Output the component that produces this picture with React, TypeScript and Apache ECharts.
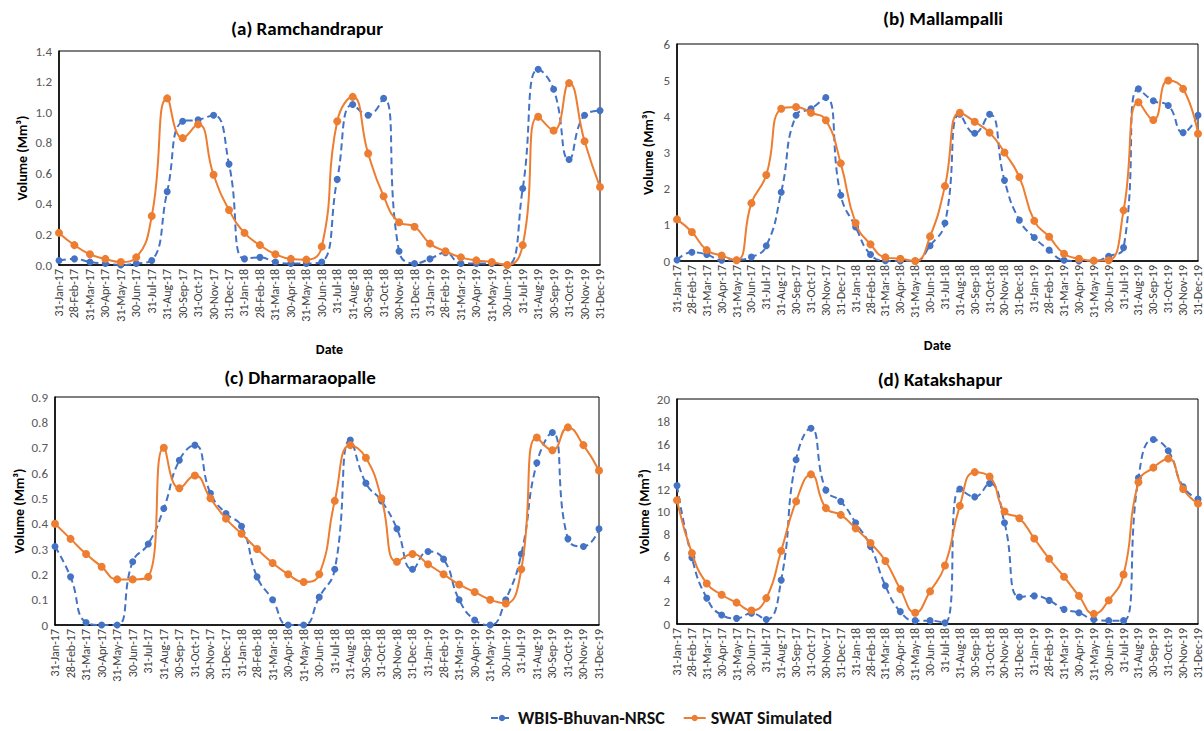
import React, { useEffect, useRef } from "react";
import * as echarts from "echarts";

const dates = [
  "31-Jan-17", "28-Feb-17", "31-Mar-17", "30-Apr-17", "31-May-17", "30-Jun-17",
  "31-Jul-17", "31-Aug-17", "30-Sep-17", "31-Oct-17", "30-Nov-17", "31-Dec-17",
  "31-Jan-18", "28-Feb-18", "31-Mar-18", "30-Apr-18", "31-May-18", "30-Jun-18",
  "31-Jul-18", "31-Aug-18", "30-Sep-18", "31-Oct-18", "30-Nov-18", "31-Dec-18",
  "31-Jan-19", "28-Feb-19", "31-Mar-19", "30-Apr-19", "31-May-19", "30-Jun-19",
  "31-Jul-19", "31-Aug-19", "30-Sep-19", "31-Oct-19", "30-Nov-19", "31-Dec-19",
];

const seriesNames = ["WBIS-Bhuvan-NRSC", "SWAT Simulated"];

const ramWBIS = [0.03, 0.04, 0.02, 0.01, 0.0, 0.01, 0.03, 0.48, 0.94, 0.95, 0.98, 0.66, 0.04, 0.05, 0.02, 0.01, 0.01, 0.02, 0.56, 1.05, 0.98, 1.09, 0.09, 0.01, 0.04, 0.08, 0.01, 0.01, 0.01, 0.0, 0.5, 1.28, 1.15, 0.69, 0.98, 1.01];
const ramSWAT = [0.21, 0.13, 0.07, 0.04, 0.02, 0.05, 0.32, 1.09, 0.83, 0.92, 0.59, 0.36, 0.21, 0.13, 0.07, 0.04, 0.035, 0.12, 0.94, 1.1, 0.73, 0.45, 0.28, 0.25, 0.14, 0.09, 0.05, 0.03, 0.02, 0.0, 0.13, 0.97, 0.88, 1.19, 0.81, 0.51];

const malWBIS = [0.03, 0.24, 0.18, 0.02, 0.03, 0.11, 0.42, 1.9, 4.03, 4.21, 4.52, 1.82, 0.94, 0.18, 0.01, 0.0, 0.0, 0.42, 1.05, 4.06, 3.53, 4.06, 2.23, 1.13, 0.65, 0.3, 0.02, 0.0, 0.0, 0.13, 0.37, 4.76, 4.43, 4.3, 3.55, 4.03];
const malSWAT = [1.15, 0.8, 0.3, 0.15, 0.02, 1.6, 2.38, 4.21, 4.26, 4.1, 3.89, 2.7, 1.05, 0.46, 0.1, 0.06, 0.0, 0.68, 2.07, 4.1, 3.85, 3.55, 3.0, 2.32, 1.11, 0.67, 0.2, 0.06, 0.01, 0.02, 1.4, 4.39, 3.9, 4.99, 4.76, 3.52];

const dhaWBIS = [0.31, 0.19, 0.01, 0.0, 0.0, 0.25, 0.32, 0.46, 0.65, 0.71, 0.52, 0.44, 0.39, 0.19, 0.1, 0.0, 0.0, 0.11, 0.22, 0.73, 0.56, 0.49, 0.38, 0.22, 0.29, 0.26, 0.1, 0.02, 0.0, 0.1, 0.28, 0.64, 0.76, 0.34, 0.31, 0.38];
const dhaSWAT = [0.4, 0.34, 0.28, 0.23, 0.18, 0.18, 0.19, 0.7, 0.54, 0.59, 0.5, 0.42, 0.36, 0.3, 0.245, 0.2, 0.17, 0.2, 0.49, 0.71, 0.66, 0.5, 0.25, 0.28, 0.24, 0.2, 0.16, 0.13, 0.1, 0.085, 0.22, 0.74, 0.69, 0.78, 0.71, 0.61];

const katWBIS = [12.3, 5.9, 2.3, 0.8, 0.5, 0.95, 0.4, 3.9, 14.6, 17.4, 11.9, 10.9, 9.0, 6.9, 3.4, 1.1, 0.3, 0.3, 0.1, 12.0, 11.3, 12.5, 9.0, 2.4, 2.5, 2.1, 1.3, 1.0, 0.4, 0.3, 0.3, 13.0, 16.4, 15.4, 12.2, 11.1];
const katSWAT = [11.0, 6.3, 3.6, 2.6, 1.9, 1.2, 2.3, 6.5, 10.9, 13.3, 10.3, 9.7, 8.5, 7.2, 5.6, 3.1, 1.0, 2.9, 5.2, 10.5, 13.5, 13.1, 10.0, 9.4, 7.6, 5.8, 4.2, 2.5, 0.9, 2.1, 4.4, 12.6, 13.9, 14.7, 12.0, 10.7];

const FONT = "Carlito, Lato, 'Liberation Sans', sans-serif";
const BLUE = "#4472C4";
const ORANGE = "#ED7D31";

const panels = [
  {
    title: "(a) Ramchandrapur", wbis: ramWBIS, swat: ramSWAT, max: 1.4, interval: 0.2,
    fmt: (v: number) => v.toFixed(1),
    grid: { left: 59, top: 51, width: 541, height: 214 }, nameGap: 30, date: true, tx: 307, ty: 19,
  },
  {
    title: "(b) Mallampalli", wbis: malWBIS, swat: malSWAT, max: 6, interval: 1,
    fmt: (v: number) => String(Math.round(v)),
    grid: { left: 677, top: 44, width: 522, height: 217 }, nameGap: 22, date: true, tx: 943, ty: 9,
  },
  {
    title: "(c) Dharmaraopalle", wbis: dhaWBIS, swat: dhaSWAT, max: 0.9, interval: 0.1,
    fmt: (v: number) => (Math.abs(v) < 1e-9 ? "0" : v.toFixed(1)),
    grid: { left: 55, top: 397, width: 544, height: 228 }, nameGap: 29, date: false, tx: 300, ty: 368,
  },
  {
    title: "(d) Katakshapur", wbis: katWBIS, swat: katSWAT, max: 20, interval: 2,
    fmt: (v: number) => String(Math.round(v)),
    grid: { left: 677, top: 399, width: 522, height: 225 }, nameGap: 26, date: false, tx: 940, ty: 370,
  },
];

export default function App() {
  const ref = useRef<HTMLDivElement>(null);
  useEffect(() => {
    document.body.style.margin = "0";
    if (!ref.current) return;
    const chart = echarts.init(ref.current, null, { renderer: "svg" });

    const option: any = {
      animation: false,
      backgroundColor: "#ffffff",
      textStyle: { fontFamily: FONT },
      title: panels.map((p) => ({
        text: p.title,
        left: p.tx,
        top: p.ty,
        textAlign: "center",
        padding: 0,
        textStyle: { fontFamily: FONT, fontSize: 19, fontWeight: "bold", color: "#000" },
      })),
      legend: {
        data: seriesNames,
        left: 490,
        top: 709,
        itemWidth: 22,
        itemHeight: 8,
        itemGap: 18,
        padding: 0,
        textStyle: { fontFamily: FONT, fontSize: 18, fontWeight: "bold", color: "#111" },
      },
      grid: panels.map((p) => ({ ...p.grid, show: true, borderColor: "#000", borderWidth: 1, containLabel: false })),
      xAxis: panels.map((p, i) => ({
        type: "category",
        gridIndex: i,
        data: dates,
        boundaryGap: false,
        axisLine: { lineStyle: { color: "#000", width: 1.5 } },
        axisTick: { show: false },
        axisLabel: { interval: 0, rotate: 90, fontSize: 12, color: "#404040", margin: 4, fontFamily: FONT },
        splitLine: { show: false },
        name: p.date ? "Date" : "",
        nameLocation: "middle",
        nameGap: 77,
        nameTextStyle: { fontFamily: FONT, fontSize: 14, fontWeight: "bold", color: "#000" },
      })),
      yAxis: panels.map((p, i) => ({
        type: "value",
        gridIndex: i,
        min: 0,
        max: p.max,
        interval: p.interval,
        axisLine: { show: true, lineStyle: { color: "#000", width: 1.5 } },
        axisTick: { show: false },
        splitLine: { show: false },
        axisLabel: { formatter: p.fmt, fontSize: 13, color: "#595959", margin: 7, fontFamily: FONT },
        name: "Volume (Mm³)",
        nameLocation: "middle",
        nameGap: p.nameGap,
        nameTextStyle: { fontFamily: FONT, fontSize: 14, fontWeight: "bold", color: "#000" },
      })),
      series: panels.flatMap((p, i) => [
        {
          name: seriesNames[0],
          type: "line",
          xAxisIndex: i,
          yAxisIndex: i,
          data: p.wbis,
          smooth: 0.5,
          symbol: "circle",
          symbolSize: 7,
          itemStyle: { color: BLUE },
          lineStyle: { color: BLUE, width: 2, type: [7, 4] },
          z: 2,
        },
        {
          name: seriesNames[1],
          type: "line",
          xAxisIndex: i,
          yAxisIndex: i,
          data: p.swat,
          smooth: 0.5,
          symbol: "circle",
          symbolSize: 8,
          itemStyle: { color: ORANGE },
          lineStyle: { color: ORANGE, width: 2 },
          z: 3,
        },
      ]),
    };
    chart.setOption(option);
    return () => chart.dispose();
  }, []);
  return <div ref={ref} style={{ width: 1204, height: 731 }} />;
}
